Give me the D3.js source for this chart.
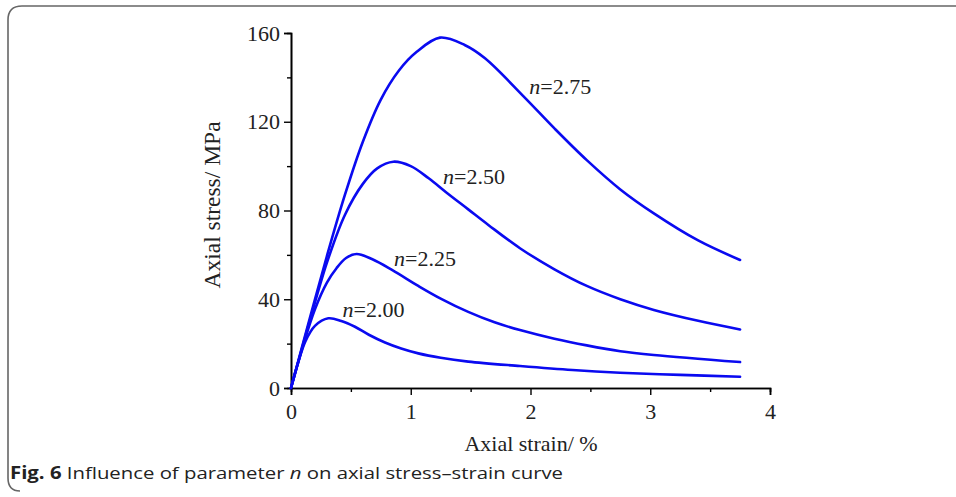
<!DOCTYPE html>
<html>
<head>
<meta charset="utf-8">
<script src="https://cdn.jsdelivr.net/npm/d3@7"></script>
<style>
  body { margin: 0; background: #fff; }
  svg { display: block; }
</style>
</head>
<body>
<svg id="chart" width="956" height="497"></svg>
<script>
// values (strain %, stress MPa)
const curveN200 = [[0,0],[0.06,11.5],[0.12,21],[0.2,28],[0.312,31.4],[0.42,30.2],[0.534,27.6],[0.65,24],[0.785,20.5],[0.92,17.8],[1.063,15.6],[1.25,13.6],[1.48,11.9],[1.912,9.9],[2.35,8.1],[2.747,6.9],[3.25,5.9],[3.75,5.1]];
const curveN225 = [[0,0],[0.1,19],[0.2,35.5],[0.3,47.5],[0.38,54],[0.46,58.6],[0.548,60.4],[0.68,58],[0.85,53],[1.063,46],[1.25,40.3],[1.48,34.3],[1.7,29.6],[1.912,26.1],[2.2,22.2],[2.47,19.2],[2.75,16.6],[3.03,14.9],[3.75,11.7]];
const curveN250 = [[0,0],[0.15,29],[0.3,56.5],[0.45,78],[0.6,92],[0.72,99],[0.855,102],[1.0,100],[1.15,94.5],[1.3,88],[1.48,80.5],[1.648,73.5],[1.912,63],[2.2,53.5],[2.47,46],[2.75,40],[3.03,35.2],[3.4,30.3],[3.75,26.4]];
const curveN275 = [[0,0],[0.15,30],[0.3,59.5],[0.45,87],[0.6,111],[0.75,130],[0.9,143],[1.05,151.5],[1.244,157.9],[1.45,154.6],[1.62,148.6],[1.95,131],[2.2,117],[2.47,102.7],[2.75,89.5],[3.03,78.7],[3.4,66.5],[3.75,57.7]];

const series = [curveN200, curveN225, curveN250, curveN275];
const labelText = ["2.00", "2.25", "2.50", "2.75"];
const labelAt = [[0.43, 32], [0.86, 55], [1.27, 92], [1.99, 132.5]];

const xTicks = [0, 1, 2, 3, 4];
const yTicks = [0, 40, 80, 120, 160];

const svg = d3.select("#chart");
const serif = "'Liberation Serif', 'Times New Roman', serif";

// frame of the figure panel
svg.append("path")
  .attr("d", "M956,6 H22 Q8,6 8,20 V478 Q8,491 20,491")
  .attr("fill", "none")
  .attr("stroke", "#666")
  .attr("stroke-width", 1.6);

const x = d3.scaleLinear().domain([0, 4]).range([291, 770]);
const y = d3.scaleLinear().domain([0, 160]).range([388, 33]);

// x axis
const gx = svg.append("g").attr("transform", `translate(0,${y(0)})`);
gx.call(d3.axisBottom(x).tickValues(d3.range(0.5, 4, 1)).tickSize(4).tickFormat(""));
gx.call(g => g.append("g").call(d3.axisBottom(x).tickValues(xTicks).tickSize(7).tickFormat(d3.format("d"))));

// y axis
const gy = svg.append("g").attr("transform", `translate(${x(0)},0)`);
gy.call(d3.axisLeft(y).tickValues(d3.range(20, 160, 40)).tickSize(4).tickFormat(""));
gy.call(g => g.append("g").call(d3.axisLeft(y).tickValues(yTicks).tickSize(7).tickFormat(d3.format("d"))));

svg.selectAll(".domain").attr("stroke", "#000").attr("stroke-width", 1.6);
svg.selectAll(".tick line").attr("stroke", "#000").attr("stroke-width", 1.4);
svg.selectAll(".tick text")
  .attr("font-family", serif)
  .attr("font-size", 22)
  .attr("fill", "#222");
gx.selectAll(".tick text").attr("dy", "0.95em");
gy.selectAll(".tick text").attr("dx", "-0.05em");

// curves
const line = d3.line()
  .x(d => x(d[0]))
  .y(d => y(d[1]))
  .curve(d3.curveCatmullRom.alpha(0.5));

svg.append("g").selectAll("path")
  .data(series)
  .join("path")
  .attr("d", line)
  .attr("fill", "none")
  .attr("stroke", "#0a0af0")
  .attr("stroke-width", 2.6)
  .attr("stroke-linecap", "round");

// curve labels
const lab = svg.append("g").selectAll("text")
  .data(labelText)
  .join("text")
  .attr("x", (d, i) => x(labelAt[i][0]))
  .attr("y", (d, i) => y(labelAt[i][1]))
  .attr("font-family", serif)
  .attr("font-size", 22)
  .attr("fill", "#222");
lab.append("tspan").attr("font-style", "italic").text("n");
lab.append("tspan").text(d => "=" + d);

// axis titles
svg.append("text")
  .attr("x", 531).attr("y", 451)
  .attr("text-anchor", "middle")
  .attr("font-family", serif)
  .attr("font-size", 22)
  .attr("fill", "#222")
  .text("Axial strain/ %");

svg.append("text")
  .attr("transform", "translate(220,205) rotate(-90)")
  .attr("text-anchor", "middle")
  .attr("font-family", serif)
  .attr("font-size", 23.5)
  .attr("fill", "#222")
  .text("Axial stress/ MPa");

// caption
const cap = svg.append("text")
  .attr("x", 10).attr("y", 479)
  .attr("font-family", "'Open Sans', 'Noto Sans', sans-serif")
  .attr("font-size", 17)
  .attr("fill", "#222")
  .attr("textLength", 553)
  .attr("lengthAdjust", "spacingAndGlyphs");
cap.append("tspan").attr("font-weight", "bold").text("Fig. 6");
cap.append("tspan").text("  Influence of parameter ");
cap.append("tspan").attr("font-style", "italic").text("n");
cap.append("tspan").text(" on axial stress\u2013strain curve");
</script>
</body>
</html>
